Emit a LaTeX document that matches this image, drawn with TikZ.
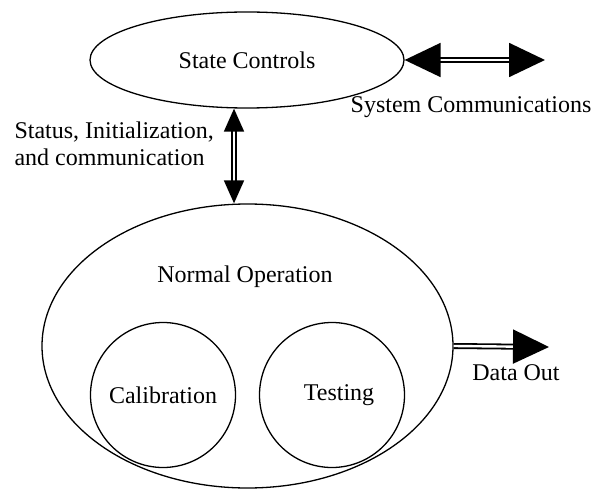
\documentclass[tikz,border=0pt]{standalone}
\usepackage{fontspec}
\setmainfont{Liberation Serif}
\usetikzlibrary{arrows.meta,shapes.geometric}

\begin{document}
\begin{tikzpicture}[x=1pt, y=-1pt, font=\fontsize{24}{26.5}\selectfont,
                        region/.style={ellipse, draw=black, line width=1.3pt, inner sep=0pt},
                        bigarrow/.style={draw=black, double=white, line width=1.8pt, double distance=2.4pt},
                        bigtip/.tip={Triangle[length=36pt, width=34pt]},
                        smalltip/.tip={Triangle[length=23pt, width=20pt]}]

                        \useasboundingbox (0,0) rectangle (599,489);
                        \clip (0,0) rectangle (599,489);

                        % Define nodes
                        \node[region, minimum width=314pt, minimum height=96pt] (S) at (247,60) {State Controls}; % Top state
                        \node[region, minimum width=411pt, minimum height=284pt] (N) at (247.5,346) {}; % Normal operation
                        \node (NL) at (245,277) {Normal Operation}; % Title of N
                        \node[region, circle, minimum size=145pt] (C) at (163,395) {Calibration}; % Inside N
                        \node[region, circle, minimum size=145pt] (T) at (332,395) {}; % Inside N
                        \node (TL) at (339,395) {Testing}; % Title of T
                        \node (SysL) at (471,107) {System Communications};
                        \node[align=left, anchor=west] (StL) at (11,144) {Status, Initialization,\\and communication};
                        \node (DL) at (516,373) {Data Out};

                        % Free ends
                        \coordinate (sysend) at (545,60);
                        \coordinate (dataend) at (549,347);
                        \coordinate (link) at (234,0);

                        % Define edges
                        \draw [bigarrow, bigtip-bigtip] (S.east) -- (sysend);
                        \draw [bigarrow, smalltip-smalltip] (S.south -| link) -- (N.north -| link);
                        \draw [bigarrow, -bigtip] (N.east) -- (dataend);
                    \end{tikzpicture}
\end{document}
